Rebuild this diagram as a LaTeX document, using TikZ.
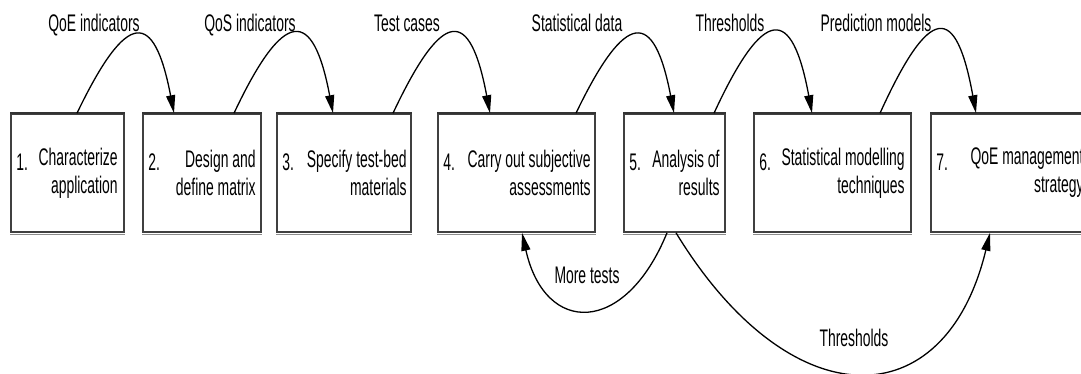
\documentclass[tikz,border=0pt]{standalone}
\usepackage{fontspec}
\setmainfont{Liberation Sans}[FakeStretch=0.58]
\usetikzlibrary{arrows.meta,calc}
\begin{document}
\begin{tikzpicture}[x=1pt,y=-1pt,
  stepbox/.style={draw=black!75,line width=1.6pt,rectangle,inner sep=0pt,minimum height=118pt},
  numtxt/.style={anchor=base west,inner sep=0pt,font=\fontsize{24}{28}\selectfont},
  boxtxt/.style={anchor=east,align=right,inner sep=0pt,font=\fontsize{24}{28}\selectfont},
  lbl/.style={anchor=base,inner sep=0pt,font=\fontsize{24}{28}\selectfont},
  shade/.style={draw=black!45,line width=1.6pt},
  topedge/.style={draw=black!80,line width=2.4pt},
  flow/.style={line width=1.3pt,-{Triangle[length=18pt,width=9pt]}}]
\useasboundingbox (0,0) rectangle (1081,374);
% boxes
\node[stepbox,minimum width=113pt] (b1) at (67.5,173) {};
\node[stepbox,minimum width=118pt] (b2) at (202,173) {};
\node[stepbox,minimum width=134pt] (b3) at (344,173) {};
\node[stepbox,minimum width=157pt] (b4) at (516.5,173) {};
\node[stepbox,minimum width=101pt] (b5) at (674.5,173) {};
\node[stepbox,minimum width=157pt] (b6) at (832.5,173) {};
\node[stepbox,minimum width=159pt] (b7) at (1010.5,173) {};
\foreach \b in {b1,b2,b3,b4,b5,b6,b7}{
  \draw[shade] ([yshift=-1.6pt]\b.south west) -- ([yshift=-1.6pt]\b.south east);
  \draw[topedge] (\b.north west) -- (\b.north east);
}
% numbers
\node[numtxt] (n1) at ($(b1.west)+(6,-2)$) {1.};
\node[numtxt] (n2) at ($(b2.west)+(6,-2)$) {2.};
\node[numtxt] (n3) at ($(b3.west)+(6,-2)$) {3.};
\node[numtxt] (n4) at ($(b4.west)+(6,-2)$) {4.};
\node[numtxt] (n5) at ($(b5.west)+(6,-2)$) {5.};
\node[numtxt] (n6) at ($(b6.west)+(6,-2)$) {6.};
\node[numtxt] (n7) at ($(b7.west)+(6,-2)$) {7.};
% texts
\node[boxtxt] (t1) at ($(b1.east)+(-7,0)$) {Characterize\\application};
\node[boxtxt] (t2) at ($(b2.east)+(-6,0)$) {Design and\\define matrix};
\node[boxtxt] (t3) at ($(b3.east)+(-5,0)$) {Specify test-bed\\materials};
\node[boxtxt] (t4) at ($(b4.east)+(-5,0)$) {Carry out subjective\\assessments};
\node[boxtxt] (t5) at ($(b5.east)+(-6,0)$) {Analysis of\\results};
\node[boxtxt] (t6) at ($(b6.east)+(-7,0)$) {Statistical modelling\\techniques};
\node[boxtxt] (t7) at ($(b7.east)+(-7,0)$) {QoE management\\strategy};
% top arcs
\draw[flow] ([xshift=9.5pt]b1.north) .. controls +(50,-104) and +(-20,-104) .. ([xshift=-28pt]b2.north);
\draw[flow] ([xshift=32pt]b2.north) .. controls +(50,-106) and +(-20,-106) .. ([xshift=-11pt]b3.north);
\draw[flow] ([xshift=49pt]b3.north) .. controls +(50,-106) and +(-20,-106) .. ([xshift=-26.5pt]b4.north);
\draw[flow] ([xshift=59.5pt]b4.north) .. controls +(50,-104) and +(-20,-104) .. ([xshift=-0.5pt]b5.north);
\draw[flow] ([xshift=39.5pt]b5.north) .. controls +(50,-108) and +(-20,-108) .. ([xshift=-20.5pt]b6.north);
\draw[flow] ([xshift=47.5pt]b6.north) .. controls +(50,-110) and +(-20,-110) .. ([xshift=-34.5pt]b7.north);
% top labels
\node[lbl] (l1) at (94,32) {QoE indicators};
\node[lbl] (l2) at (250,32) {QoS indicators};
\node[lbl] (l3) at (407,32) {Test cases};
\node[lbl] (l4) at (577,32) {Statistical data};
\node[lbl] (l5) at (730,32) {Thresholds};
\node[lbl] (l6) at (876,32) {Prediction models};
% bottom arcs
\draw[flow] ([xshift=-7.5pt]b5.south) .. controls +(-42,103) and +(23,103) .. ([xshift=5.5pt]b4.south);
\draw[flow] ([xshift=1.5pt]b5.south) .. controls +(114,187) and +(-45,187) .. ([xshift=-20.5pt]b7.south);
\node[lbl] (l7) at (587,283) {More tests};
\node[lbl] (l8) at (854,346) {Thresholds};
\end{tikzpicture}
\end{document}
